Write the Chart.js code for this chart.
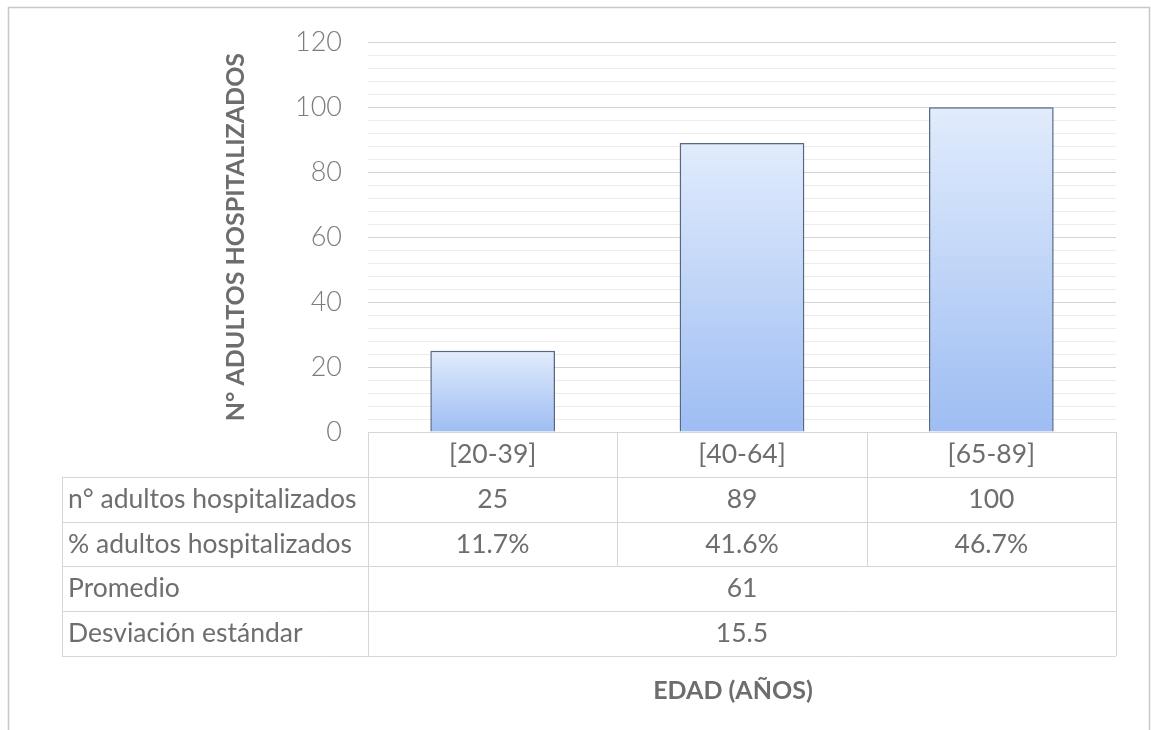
<!DOCTYPE html>
<html>
<head>
<meta charset="utf-8">
<script src="https://cdn.jsdelivr.net/npm/chart.js@4.4.1/dist/chart.umd.min.js"></script>
<style>
  html, body { margin: 0; padding: 0; background: #ffffff; }
  #wrap { width: 1151px; height: 730px; position: relative; }
  canvas { display: block; }
</style>
</head>
<body>
<div id="wrap"><canvas id="chart" width="1151" height="730"></canvas></div>
<script>
// Age groups and hospitalised adults per group
const categories = ['[20-39]', '[40-64]', '[65-89]'];
const hospitalizados = [25, 89, 100];
const porcentajes = [11.7, 41.6, 46.7];
const promedio = 61;
const desviacion = 15.5;
const rowLabels = ['n° adultos hospitalizados', '% adultos hospitalizados', 'Promedio', 'Desviación estándar'];
const xTitle = 'EDAD (AÑOS)';
const yTitle = 'N° ADULTOS HOSPITALIZADOS';
const yMax = 120;
const yLabelStep = 20;
const yGridStep = 4;

const FONT = 'Lato, "Open Sans", sans-serif';
const TEXT = '#6e6e6e';
const TITLE = '#6d6d6d';

// Outer frame around the whole figure
const framePlugin = {
  id: 'frame',
  beforeDraw(chart) {
    const ctx = chart.ctx;
    ctx.save();
    ctx.fillStyle = '#ffffff';
    ctx.fillRect(0, 0, chart.width, chart.height);
    ctx.strokeStyle = '#c8c8c8';
    ctx.lineWidth = 1.5;
    ctx.strokeRect(8.5, 7.5, chart.width - 10, chart.height + 20);
    ctx.restore();
  }
};

// Soft shadow behind the bars
const shadowPlugin = {
  id: 'barShadow',
  beforeDatasetsDraw(chart) {
    const ctx = chart.ctx;
    ctx.save();
    ctx.shadowColor = 'rgba(0,0,0,0.16)';
    ctx.shadowBlur = 6;
  },
  afterDatasetsDraw(chart) {
    chart.ctx.restore();
  }
};

// Data table under the plot, columns aligned with the category scale
const tablePlugin = {
  id: 'dataTable',
  afterDraw(chart) {
    const ctx = chart.ctx;
    const x = chart.scales.x;
    const y = chart.scales.y;
    const n = categories.length;
    const half = (x.getPixelForValue(1) - x.getPixelForValue(0)) / 2;
    const colLeft = i => x.getPixelForValue(i) - half;
    const plotL = colLeft(0);
    const plotR = colLeft(n);
    const tableL = 62;
    const top = y.getPixelForValue(0);
    const rowH = 44.8;
    const rowY = r => top + r * rowH;

    ctx.save();
    ctx.strokeStyle = '#d6d6d6';
    ctx.lineWidth = 1;
    const hline = (x0, x1, yy) => { ctx.beginPath(); ctx.moveTo(x0, Math.round(yy) + 0.5); ctx.lineTo(x1, Math.round(yy) + 0.5); ctx.stroke(); };
    const vline = (xx, y0, y1) => { ctx.beginPath(); ctx.moveTo(Math.round(xx) + 0.5, y0); ctx.lineTo(Math.round(xx) + 0.5, y1); ctx.stroke(); };

    hline(plotL, plotR, rowY(0));
    for (let r = 1; r <= 5; r++) hline(tableL, plotR, rowY(r));
    vline(tableL, rowY(1), rowY(5));
    vline(plotL, rowY(0), rowY(5));
    vline(plotR, rowY(0), rowY(5));
    for (let i = 1; i < n; i++) vline(colLeft(i), rowY(0), rowY(3));

    ctx.fillStyle = TEXT;
    ctx.font = '26.5px ' + FONT;
    ctx.textBaseline = 'middle';

    // header row: category labels
    ctx.textAlign = 'center';
    categories.forEach((c, i) => ctx.fillText(c, x.getPixelForValue(i), rowY(0) + rowH / 2));

    // row labels
    ctx.textAlign = 'left';
    rowLabels.forEach((t, r) => ctx.fillText(t, tableL + 6, rowY(r + 1) + rowH / 2));

    // values
    ctx.textAlign = 'center';
    hospitalizados.forEach((v, i) => ctx.fillText(String(v), x.getPixelForValue(i), rowY(1) + rowH / 2));
    porcentajes.forEach((v, i) => ctx.fillText(v.toFixed(1) + '%', x.getPixelForValue(i), rowY(2) + rowH / 2));
    const mid = (plotL + plotR) / 2;
    ctx.fillText(String(promedio), mid, rowY(3) + rowH / 2);
    ctx.fillText(desviacion.toFixed(1), mid, rowY(4) + rowH / 2);

    // axis title below the table
    ctx.fillStyle = TITLE;
    ctx.font = 'bold 25px ' + FONT;
    ctx.fillText(xTitle, mid - 9, rowY(5) + 35);
    ctx.restore();
  }
};

function barGradient(c) {
  const chart = c.chart;
  const area = chart.chartArea;
  if (!area || c.type !== 'data') return '#c2d7f9';
  const ys = chart.scales.y;
  const topPx = ys.getPixelForValue(c.raw);
  const basePx = ys.getPixelForValue(0);
  const g = chart.ctx.createLinearGradient(0, topPx, 0, basePx);
  g.addColorStop(0, '#e1ecfc');
  g.addColorStop(1, '#9ebdf3');
  return g;
}

new Chart(document.getElementById('chart'), {
  type: 'bar',
  data: {
    labels: categories,
    datasets: [{
      label: 'n° adultos hospitalizados',
      data: hospitalizados,
      backgroundColor: barGradient,
      borderColor: '#5c6f8f',
      borderWidth: 1.5,
      barPercentage: 0.5,
      categoryPercentage: 1.0
    }]
  },
  options: {
    responsive: false,
    animation: false,
    devicePixelRatio: 1,
    layout: { padding: { left: 8, top: 42, right: 35, bottom: 20 } },
    plugins: { legend: { display: false }, tooltip: { enabled: false } },
    scales: {
      x: {
        grid: { display: false },
        border: { display: false },
        ticks: { display: false },
        afterFit(scale) { scale.height = 278; }
      },
      y: {
        min: 0,
        max: yMax,
        border: { display: false },
        grid: {
          drawTicks: false,
          lineWidth: 1,
          color: c => (c.tick && c.tick.value % yLabelStep === 0) ? '#d4d4d4' : '#ececec'
        },
        ticks: {
          stepSize: yGridStep,
          autoSkip: false,
          maxTicksLimit: 100,
          padding: 26,
          color: '#7c7c7c',
          font: { family: FONT, size: 27, weight: '300' },
          callback: v => (v % yLabelStep === 0 ? String(v) : '')
        },
        title: {
          display: true,
          text: yTitle,
          color: TITLE,
          font: { family: FONT, size: 25, weight: 'bold' },
          padding: { top: 213, bottom: 0 }
        },
        afterFit(scale) { scale.width = 360; }
      }
    }
  },
  plugins: [framePlugin, shadowPlugin, tablePlugin]
});
</script>
</body>
</html>
